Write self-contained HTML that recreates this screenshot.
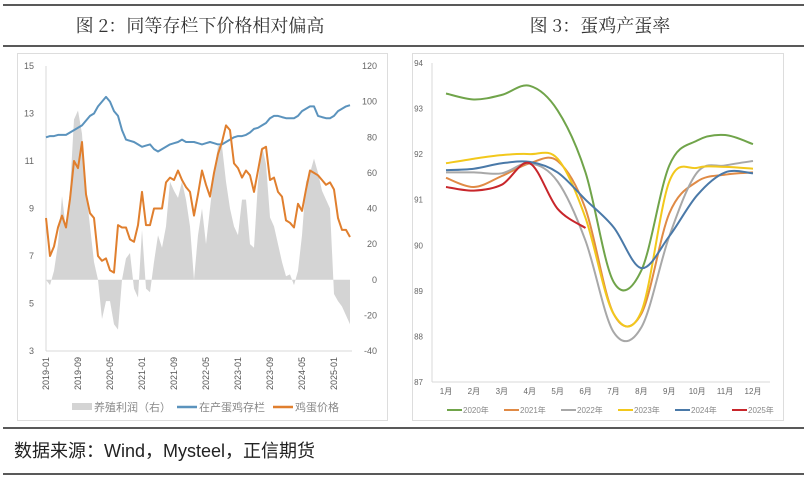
<!DOCTYPE html>
<html><head><meta charset="utf-8">
<style>
html,body{margin:0;padding:0;background:#fff;}
svg{display:block;font-family:"Liberation Sans","Noto Sans CJK SC",sans-serif;}
</style></head>
<body>
<svg id="root" width="804" height="479" viewBox="0 0 804 479">
  <line x1="3" y1="5" x2="804" y2="5" stroke="#222" stroke-width="1.5"/>
  <line x1="3" y1="46" x2="804" y2="46" stroke="#222" stroke-width="1.5"/>
  <line x1="3" y1="428" x2="804" y2="428" stroke="#222" stroke-width="1.5"/>
  <line x1="3" y1="474" x2="804" y2="474" stroke="#222" stroke-width="1.5"/>
  <text x="200" y="32" text-anchor="middle" font-size="18" fill="#333" font-family="'Noto Serif CJK SC','Liberation Serif',serif">图 2：同等存栏下价格相对偏高</text>
  <text x="600" y="32" text-anchor="middle" font-size="18" fill="#333" font-family="'Noto Serif CJK SC','Liberation Serif',serif">图 3：蛋鸡产蛋率</text>
  <text x="14" y="457" font-size="18" fill="#222">数据来源：Wind，Mysteel，正信期货</text>
  <rect x="17.5" y="53.5" width="370" height="367" fill="#fff" stroke="#ddd"/>
  <rect x="412.5" y="53.5" width="371" height="367" fill="#fff" stroke="#ddd"/>
  <g id="left"></g>
  <g id="right"></g>
</svg>
<script>
const leftMonths = ["2019-01","2019-09","2020-05","2021-01","2021-09","2022-05","2023-01","2023-09","2024-05","2025-01"];
const leftTickIdx = [0,8,16,24,32,40,48,56,64,72];
const leftYTicks = [3,5,7,9,11,13,15];
const rightYTicks = [-40,-20,0,20,40,60,80,100,120];
const profit = [0,-3,5,20,47,28,50,90,95,82,50,30,
 10,0,-22,-12,-12,-25,-28,0,12,15,-5,-10,
 28,-5,-7,10,25,18,30,55,50,46,55,45,
 30,0,25,40,20,40,60,75,75,55,40,30,
 25,45,45,20,18,55,75,65,35,30,20,10,
 2,3,-3,5,25,55,60,68,60,50,45,40,
 -8,-12,-15,-20,-25];
const stock = [12.0,12.05,12.05,12.1,12.1,12.1,12.2,12.3,12.4,12.5,12.7,12.9,
 13.0,13.3,13.5,13.7,13.5,13.1,12.9,12.3,11.9,11.85,11.8,11.7,
 11.6,11.65,11.7,11.5,11.4,11.5,11.6,11.7,11.75,11.8,11.9,11.8,
 11.8,11.8,11.75,11.7,11.75,11.8,11.75,11.7,11.7,11.8,11.9,12.0,
 12.05,12.05,12.1,12.2,12.35,12.4,12.5,12.6,12.8,12.9,12.9,12.85,
 12.8,12.8,12.8,12.9,13.1,13.2,13.3,13.3,12.9,12.85,12.8,12.8,
 12.9,13.1,13.2,13.3,13.35];
const eggPrice = [8.6,7.0,7.4,8.2,8.7,8.2,9.4,11.0,10.7,11.8,9.6,8.8,
 8.6,7.0,6.8,6.9,6.4,6.3,8.3,8.2,8.2,7.7,7.6,8.3,
 9.7,8.3,8.3,9.0,9.0,9.0,10.1,10.3,10.2,10.6,10.2,9.9,
 9.7,8.7,9.6,10.6,10.0,9.5,10.5,11.3,11.8,12.5,12.3,10.9,
 10.7,10.3,10.6,10.4,9.7,10.6,11.5,11.6,10.2,10.3,9.7,9.5,
 8.5,8.4,8.2,9.2,8.9,9.8,10.6,10.5,10.4,10.2,10.0,10.1,
 9.8,8.6,8.1,8.1,7.8];

const rMonths = ["1月","2月","3月","4月","5月","6月","7月","8月","9月","10月","11月","12月"];
const rYTicks = [87,88,89,90,91,92,93,94];
const rYears = ["2020年","2021年","2022年","2023年","2024年","2025年"];
const rColors = ["#70a44a","#e08a45","#a8a8a8","#f2c81c","#4a79a8","#c8262b"];
const y2020 = [93.33,93.2,93.3,93.5,92.96,91.6,89.2,89.45,91.75,92.3,92.42,92.22];
const y2021 = [91.48,91.28,91.52,91.8,91.85,90.8,88.5,88.5,90.7,91.4,91.55,91.6];
const y2022 = [91.6,91.6,91.58,91.8,91.4,90.1,88.1,88.2,90.2,91.6,91.75,91.85];
const y2023 = [91.8,91.9,91.98,92.0,91.9,90.6,88.5,88.55,91.4,91.7,91.72,91.68];
const y2024 = [91.65,91.68,91.8,91.83,91.6,91.0,90.4,89.5,90.2,91.1,91.6,91.58];
const y2025 = [91.28,91.2,91.33,91.8,90.8,90.38];
const rSeries = [y2020,y2021,y2022,y2023,y2024,y2025];

const NS="http://www.w3.org/2000/svg";
function mk(parent, tag, attrs){const e=document.createElementNS(NS,tag);for(const k in attrs)e.setAttribute(k,attrs[k]);parent.appendChild(e);return e;}

// LEFT CHART
const L = document.getElementById('left');
const lx0=46, lx1=352, ly0=66, ly1=351;
const n = stock.length;
const xL = i => lx0 + i*(lx1-lx0-2)/(n-1);
const yLeft = v => ly1 - (v-3)/(15-3)*(ly1-ly0);
const yRight = v => ly1 - (v+40)/160*(ly1-ly0);
let ax = mk(L,'line',{x1:lx0,y1:ly0,x2:lx0,y2:ly1,stroke:'#d9d9d9'});


let ax2 = mk(L,'line',{x1:lx0,y1:ly1,x2:lx1,y2:ly1,stroke:'#d9d9d9'});


leftYTicks.forEach(v=>{const t=mk(L,'text',{x:lx0-12,y:yLeft(v)+3,'text-anchor':'end','font-size':9,fill:'#666'});t.textContent=v;

});
rightYTicks.forEach(v=>{const t=mk(L,'text',{x:lx1+25,y:yRight(v)+3,'text-anchor':'end','font-size':9,fill:'#666'});t.textContent=v;

});
leftMonths.forEach((m,k)=>{const x=xL(leftTickIdx[k]);const t=mk(L,'text',{x:0,y:0,'text-anchor':'end','font-size':9,fill:'#555',transform:`translate(${x+3},${ly1+6}) rotate(-90)`});t.textContent=m;

});
// area
let d=`M${xL(0)},${yRight(0)}`;profit.forEach((v,i)=>{d+=` L${xL(i)},${yRight(v)}`;});d+=` L${xL(n-1)},${yRight(0)} Z`;
let area=mk(L,'path',{d:d,fill:'#d4d4d4'});


function poly(arr,yf){return arr.map((v,i)=>`${xL(i).toFixed(1)},${yf(v).toFixed(1)}`).join(' ');}
let sl=mk(L,'polyline',{points:poly(stock,yLeft),fill:'none',stroke:'#5b93bd','stroke-width':2,'stroke-linejoin':'round'});


let pl=mk(L,'polyline',{points:poly(eggPrice,yLeft),fill:'none',stroke:'#e07f2e','stroke-width':2,'stroke-linejoin':'round'});


// legend
const legL=[["rect","#d4d4d4","养殖利润（右）",72],["line","#5b93bd","在产蛋鸡存栏",177],["line","#e07f2e","鸡蛋价格",273]];
legL.forEach(it=>{let g=mk(L,'g',{});


if(it[0]==='rect')mk(g,'rect',{x:it[3],y:403,width:20,height:7,fill:it[1]});else mk(g,'line',{x1:it[3],y1:407,x2:it[3]+20,y2:407,stroke:it[1],'stroke-width':2.5});
const t=mk(g,'text',{x:it[3]+22,y:411,'font-size':11,fill:'#888'});t.textContent=it[2];});

// RIGHT CHART
const R=document.getElementById('right');
const rx0=446, rx1=753, ry0=63, ry1=382, plotL=432, plotR=770;
const xR=i=>rx0+i*(rx1-rx0)/11;
const yR=v=>ry1-(v-87)/7*(ry1-ry0);
let rax=mk(R,'line',{x1:plotL,y1:ry0,x2:plotL,y2:ry1,stroke:'#d9d9d9'});


let rax2=mk(R,'line',{x1:plotL,y1:ry1,x2:plotR,y2:ry1,stroke:'#d9d9d9'});


rYTicks.forEach(v=>{const t=mk(R,'text',{x:423,y:yR(v)+3,'text-anchor':'end','font-size':8,fill:'#666'});t.textContent=v;

});
rMonths.forEach((m,i)=>{const t=mk(R,'text',{x:xR(i),y:394,'text-anchor':'middle','font-size':8,fill:'#666'});t.textContent=m;

});
function smooth(arr){const p=arr.map((v,i)=>[xR(i),yR(v)]);let s=`M${p[0][0]},${p[0][1]}`;
for(let i=0;i<p.length-1;i++){const p0=p[i-1]||p[i],p1=p[i],p2=p[i+1],p3=p[i+2]||p2;
const c1=[p1[0]+(p2[0]-p0[0])/6,p1[1]+(p2[1]-p0[1])/6],c2=[p2[0]-(p3[0]-p1[0])/6,p2[1]-(p3[1]-p1[1])/6];
s+=` C${c1[0].toFixed(1)},${c1[1].toFixed(1)} ${c2[0].toFixed(1)},${c2[1].toFixed(1)} ${p2[0].toFixed(1)},${p2[1].toFixed(1)}`;}return s;}
rSeries.forEach((arr,k)=>{const p=mk(R,'path',{d:smooth(arr),fill:'none',stroke:rColors[k],'stroke-width':2});

});
rYears.forEach((y,k)=>{const x=447+k*57;const g=mk(R,'g',{});


mk(g,'line',{x1:x,y1:410,x2:x+15,y2:410,stroke:rColors[k],'stroke-width':2});
const t=mk(g,'text',{x:x+16,y:413,'font-size':8,fill:'#888'});t.textContent=y;});
</script>
</body></html>
